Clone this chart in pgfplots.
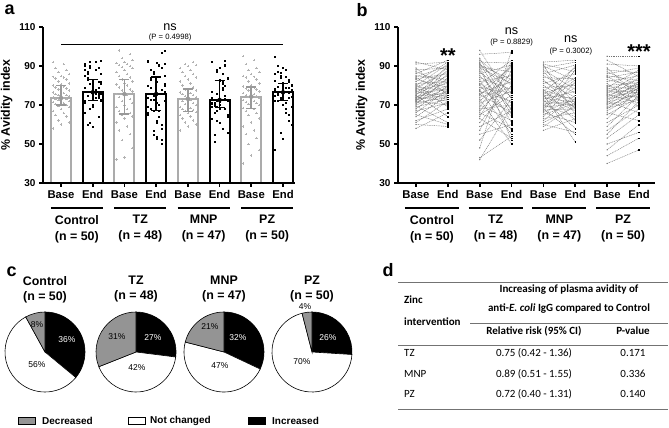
\documentclass[border=0pt]{standalone}
\usepackage{pgfplots}
\pgfplotsset{compat=1.18}
\usepackage{pgfplotstable}
\usepackage{fontspec}
\setmainfont{Liberation Sans}
\newfontfamily\calfont{Carlito}
\newcommand\fs[2]{\fontsize{#1bp}{#2bp}\selectfont}

% per subject: b = baseline, e = endline (% avidity index)
\pgfplotstableread{
b e
58 66
60 59
61 72
62 68
64 75
65 60
66 78
67 71
68 80
69 73
69.5 61
70 76
70.5 84
71 74
71.5 79
72 70
72 86
72.5 77
73 82
73 75
73.5 88
74 72
74 80
74.5 76
75 90
75 64
75.5 83
76 78
76.5 85
77 73
77.5 81
78 89
78.5 74
79 87
79.5 77
80 91
80.5 69
81 82
82 92
83 79
83.5 86
84 76
84.5 90
85 83
86 93
87 81
88 89
89 75
91 92
92 88
}\ctrl
\pgfplotstableread{
b e
42 69
43 54
48 98
52 73
55 60
57 88
59 67
61 80
63 53
64 91
65 75
66 58
67 84
68 70
69 92
70 62
71 77
72 86
73 50
74 79
75 90
75.5 66
76 82
77 72
77.5 55
78 89
79 76
80 64
80.5 93
81 71
82 85
83 57
84 78
85 68
86 90.5
87 74
88 61
89 81
89.5 87
90 52
90.5 83
91 76
91.5 65
92 91.5
93 80
94 67
96 97
98 73
}\tz
\pgfplotstableread{
b e
57 63
59 70
60 56
61 69
62 75
63 66
64 82
65 71
66 61
66.5 73
67 88
67.5 68
68 55
68.5 79
69 70.5
69.5 83
70 64
70.5 72
71 90
72 69.5
72.5 58
73 77
73.5 71.5
74 84
74.5 67
75 73.5
75.5 51
76 81
76.5 69
77 89
77.5 72.5
78 62
79 80
80 70
81 86
82 74
83 68
84 83.5
85 76
86 90.5
87 71
88 78
89 92
90 82.5
90.5 65
91 87
92 93
}\mnp
\pgfplotstableread{
b e
40 47
44 53
47 60
50 56
53 65
55 72
57 68
59 75
61 70
63 78
65 74
66 62
67 76
68 79
68.5 72.5
69 77
70 80
70.5 73
71 82
71.5 75.5
72 66
72.5 78.5
73 81
73.5 74.5
74 84
74.5 76.5
75 79.5
75.5 71
76 86
76.5 77.5
77 80.5
77.5 73.5
78 83
78.5 76
79 88
79.5 78
80 81.5
81 69
82 85
83 79
84 87
84.5 77
85 82.5
86 89
87 80
88 86.5
89 74
91 90
93 84.5
95 95
}\pz
\pgfplotstableread{
x y p m
1 73.6 6.3 3.6
3 75.6 7.4 10.2
5 73.2 5.0 6.6
7 74.3 4.9 6.0
}\errbase
\pgfplotstableread{
x y p m
2 76.5 6.5 4.1
4 75.6 8.8 8.5
6 72.6 10.0 3.8
8 76.5 4.5 4.1
}\errend

\tikzset{
 grp/.style={align=center, font=\bfseries\fs{12.4}{16}},
 pct/.style={font=\fs{8.5}{10}},
}
\pgfplotsset{
 avid/.style={
  scale only axis, height=156bp,
  ymin=30, ymax=110, ytick={30,50,70,90,110},
  axis x line*=bottom, axis y line*=left,
  axis line style={line width=1.6bp, black},
  major tick style={line width=1.6bp, black},
  major tick length=4bp, tick align=outside,
  xtick={1,2,3,4,5,6,7,8},
  xticklabels={Base,End,Base,End,Base,End,Base,End},
  xticklabel style={font=\bfseries\fs{11.3}{13}},
  yticklabel style={font=\bfseries\fs{10}{12}},
  /pgf/number format/assume math mode=true,
  ylabel={\% Avidity index},
  ylabel style={font=\bfseries\fs{12.4}{14}},
  clip mode=individual,
  axis on top,
 },
 basepts/.style={only marks, mark=+, mark size=1.2bp, black!30, line width=0.45bp},
 endpts/.style={only marks, mark=square*, mark size=0.5bp, black, line width=0.2bp},
 endptsb/.style={only marks, mark=square*, mark size=0.38bp, black, mark options={draw=none}},
 pair/.style={quiver={u=1, v={\thisrow{e}-\thisrow{b}}}, black!55, line width=0.45bp, dash pattern=on 1bp off 0.8bp},
}

\begin{document}
\begin{tikzpicture}
\useasboundingbox (0,0) rectangle (669bp,428bp);

% ---------------- panel a ----------------
\node[anchor=base west, font=\bfseries\fs{18}{18}] at (1bp,413bp) {a};
\begin{axis}[avid, at={(43bp,245bp)}, anchor=south west, width=252bp,
  xmin=0.432, xmax=8.378]
 \addplot[ybar, bar width=20bp, bar shift=0pt, draw=black!33, line width=2bp, fill=white]
   coordinates {(1,73.6) (3,75.6) (5,73.2) (7,74.3)};
 \addplot[ybar, bar width=20bp, bar shift=0pt, draw=black, line width=2bp, fill=white]
   coordinates {(2,76.5) (4,75.6) (6,72.6) (8,76.5)};
 \addplot[basepts] table[x expr={1+0.085*(mod(3*\coordindex,7)-3)}, y=b] {\ctrl};
 \addplot[basepts] table[x expr={3+0.085*(mod(3*\coordindex,7)-3)}, y=b] {\tz};
 \addplot[basepts] table[x expr={5+0.085*(mod(3*\coordindex,7)-3)}, y=b] {\mnp};
 \addplot[basepts] table[x expr={7+0.085*(mod(3*\coordindex,7)-3)}, y=b] {\pz};
 \addplot[endpts] table[x expr={2+0.085*(mod(3*\coordindex,7)-3)}, y=e] {\ctrl};
 \addplot[endpts] table[x expr={4+0.085*(mod(3*\coordindex,7)-3)}, y=e] {\tz};
 \addplot[endpts] table[x expr={6+0.085*(mod(3*\coordindex,7)-3)}, y=e] {\mnp};
 \addplot[endpts] table[x expr={8+0.085*(mod(3*\coordindex,7)-3)}, y=e] {\pz};
 \addplot[only marks, mark=none, black!40,
   error bars/.cd, y dir=both, y explicit,
   error bar style={line width=1.6bp, black!40},
   error mark options={rotate=90, mark size=5bp, line width=1.6bp, black!40}]
   table[x=x, y=y, y error plus=p, y error minus=m] {\errbase};
 \addplot[only marks, mark=none, black,
   error bars/.cd, y dir=both, y explicit,
   error bar style={line width=1.6bp, black},
   error mark options={rotate=90, mark size=5bp, line width=1.6bp, black}]
   table[x=x, y=y, y error plus=p, y error minus=m] {\errend};
 \draw[line width=0.8bp] (axis cs:1,101.3) -- (axis cs:8,101.3);
 \node[font=\fs{12.6}{14}] at (axis cs:4.44,110) {ns};
 \node[font=\fs{7.7}{9}] at (axis cs:4.44,104.4) {(P = 0.4998)};
 \draw[line width=1.2bp] ([yshift=-25bp]axis cs:0.68,30) -- ([yshift=-25bp]axis cs:2.32,30);
 \draw[line width=1.2bp] ([yshift=-25bp]axis cs:2.68,30) -- ([yshift=-25bp]axis cs:4.32,30);
 \draw[line width=1.2bp] ([yshift=-25bp]axis cs:4.68,30) -- ([yshift=-25bp]axis cs:6.32,30);
 \draw[line width=1.2bp] ([yshift=-25bp]axis cs:6.68,30) -- ([yshift=-25bp]axis cs:8.32,30);
 \node[grp] at ([yshift=-46bp]axis cs:1.5,30) {Control\\(n = 50)};
 \node[grp] at ([yshift=-46bp]axis cs:3.5,30) {TZ\\(n = 48)};
 \node[grp] at ([yshift=-46bp]axis cs:5.5,30) {MNP\\(n = 47)};
 \node[grp] at ([yshift=-46bp]axis cs:7.5,30) {PZ\\(n = 50)};
\end{axis}

% ---------------- panel b ----------------
\node[anchor=base west, font=\bfseries\fs{18}{18}] at (353bp,411bp) {b};
\begin{axis}[avid, at={(398bp,245bp)}, anchor=south west, width=257bp,
  xmin=0.435, xmax=8.502]
 \addplot[pair] table[x expr=1, y=b] {\ctrl};
 \addplot[pair] table[x expr=3, y=b] {\tz};
 \addplot[pair] table[x expr=5, y=b] {\mnp};
 \addplot[pair] table[x expr=7, y=b] {\pz};
 \addplot[only marks, mark=*, mark size=0.4bp, black!50] table[x expr=1, y=b] {\ctrl};
 \addplot[only marks, mark=*, mark size=0.4bp, black!50] table[x expr=3, y=b] {\tz};
 \addplot[only marks, mark=*, mark size=0.4bp, black!50] table[x expr=5, y=b] {\mnp};
 \addplot[only marks, mark=*, mark size=0.4bp, black!50] table[x expr=7, y=b] {\pz};
 \addplot[endptsb] table[x expr=2, y=e] {\ctrl};
 \addplot[endptsb] table[x expr=4, y=e] {\tz};
 \addplot[endptsb] table[x expr=6, y=e] {\mnp};
 \addplot[endptsb] table[x expr=8, y=e] {\pz};
 \node[font=\bfseries\fs{20}{20}] at (axis cs:2,95.2) {**};
 \node[font=\bfseries\fs{20}{20}] at (axis cs:8,97.2) {***};
 \node[font=\fs{12.6}{14}] at (axis cs:4.0,108) {ns};
 \node[font=\fs{7.7}{9}] at (axis cs:4.0,101.8) {(P = 0.8829)};
 \node[font=\fs{12.6}{14}] at (axis cs:5.86,103.8) {ns};
 \node[font=\fs{7.7}{9}] at (axis cs:5.86,97.3) {(P = 0.3002)};
 \draw[line width=1.2bp] ([yshift=-25bp]axis cs:0.65,30) -- ([yshift=-25bp]axis cs:2.35,30);
 \draw[line width=1.2bp] ([yshift=-25bp]axis cs:2.65,30) -- ([yshift=-25bp]axis cs:4.35,30);
 \draw[line width=1.2bp] ([yshift=-25bp]axis cs:4.65,30) -- ([yshift=-25bp]axis cs:6.35,30);
 \draw[line width=1.2bp] ([yshift=-25bp]axis cs:6.65,30) -- ([yshift=-25bp]axis cs:8.35,30);
 \node[grp] at ([yshift=-46bp]axis cs:1.5,30) {Control\\(n = 50)};
 \node[grp] at ([yshift=-46bp]axis cs:3.5,30) {TZ\\(n = 48)};
 \node[grp] at ([yshift=-46bp]axis cs:5.5,30) {MNP\\(n = 47)};
 \node[grp] at ([yshift=-46bp]axis cs:7.5,30) {PZ\\(n = 50)};
\end{axis}

% ---------------- panel c ----------------
\node[anchor=base west, font=\bfseries\fs{18}{18}] at (3bp,151bp) {c};
\foreach \cx/\inc/\nc/\dec/\ttl/\ix/\iy/\nx/\ny/\dx/\dy in {
   45/36/56/8/{Control\\(n = 50)}/22/12/-8/-13/-8/27,
   136/27/42/31/{TZ\\(n = 48)}/17/14/1/-16/-19/15,
   224/32/47/21/{MNP\\(n = 47)}/14/14/-4/-14/-14/25,
   312/26/70/4/{PZ\\(n = 50)}/16/14/-10/-10/-7/45} {
 \begin{scope}[shift={(\cx bp,76bp)}]
  \pgfmathsetmacro\aA{90-3.6*\inc}
  \pgfmathsetmacro\aB{\aA-3.6*\nc}
  \filldraw[fill=black, draw=black, line width=0.6bp] (0,0) -- (90:40bp) arc[start angle=90, end angle=\aA, radius=40bp] -- cycle;
  \filldraw[fill=white, draw=black, line width=0.6bp] (0,0) -- (\aA:40bp) arc[start angle=\aA, end angle=\aB, radius=40bp] -- cycle;
  \filldraw[fill=black!42, draw=black, line width=0.6bp] (0,0) -- (\aB:40bp) arc[start angle=\aB, end angle=-270, radius=40bp] -- cycle;
  \node[pct, white] at (\ix bp,\iy bp) {\inc\%};
  \node[pct] at (\nx bp,\ny bp) {\nc\%};
  \node[pct] at (\dx bp,\dy bp) {\dec\%};
  \node[align=center, font=\bfseries\fs{12.4}{15}] at (0,62.5bp) {\ttl};
 \end{scope}
}
\filldraw[fill=black!42, draw=black, line width=0.6bp] (18bp,3.5bp) rectangle (35bp,10.5bp);
\node[anchor=west, font=\bfseries\fs{10}{12}, inner sep=0pt] at (42bp,7bp) {Decreased};
\filldraw[fill=white, draw=black, line width=0.6bp] (128bp,3.5bp) rectangle (145bp,10.5bp);
\node[anchor=west, font=\bfseries\fs{10}{12}, inner sep=0pt] at (150bp,7bp) {Not changed};
\filldraw[fill=black, draw=black, line width=0.6bp] (248bp,3.5bp) rectangle (265bp,10.5bp);
\node[anchor=west, font=\bfseries\fs{10}{12}, inner sep=0pt] at (272bp,7bp) {Increased};

% ---------------- panel d ----------------
\node[anchor=base west, font=\bfseries\fs{18}{18}] at (379bp,151bp) {d};
\begin{scope}[font=\calfont\fs{11}{13}, every node/.style={inner sep=0pt}]
 \draw[black!55, line width=0.9bp] (398bp,146bp) -- (668bp,146bp);
 \draw[black!55, line width=0.9bp] (470bp,105bp) -- (668bp,105bp);
 \draw[black!55, line width=0.9bp] (398bp,83bp) -- (668bp,83bp);
 \draw[black!55, line width=0.9bp] (398bp,19bp) -- (668bp,19bp);
 \node[font=\calfont\bfseries\fs{11}{13}] at (569bp,138bp) {Increasing of plasma avidity of};
 \node[font=\calfont\bfseries\fs{11}{13}] at (569bp,119bp) {anti-\textit{E. coli} IgG compared to Control};
 \node[anchor=west, font=\calfont\bfseries\fs{11}{13}] at (404bp,128bp) {Zinc};
 \node[anchor=west, font=\calfont\bfseries\fs{11}{13}] at (404bp,106bp) {intervention};
 \node[font=\calfont\bfseries\fs{11}{13}] at (534bp,97bp) {Relative risk (95\% CI)};
 \node[font=\calfont\bfseries\fs{11}{13}] at (633bp,97bp) {P-value};
 \node[anchor=west] at (404bp,75bp) {TZ};
 \node at (534bp,75bp) {0.75 (0.42 - 1.36)};
 \node at (633bp,75bp) {0.171};
 \node[anchor=west] at (404bp,54bp) {MNP};
 \node at (534bp,54bp) {0.89 (0.51 - 1.55)};
 \node at (633bp,54bp) {0.336};
 \node[anchor=west] at (404bp,34bp) {PZ};
 \node at (534bp,34bp) {0.72 (0.40 - 1.31)};
 \node at (633bp,34bp) {0.140};
\end{scope}
\end{tikzpicture}
\end{document}
